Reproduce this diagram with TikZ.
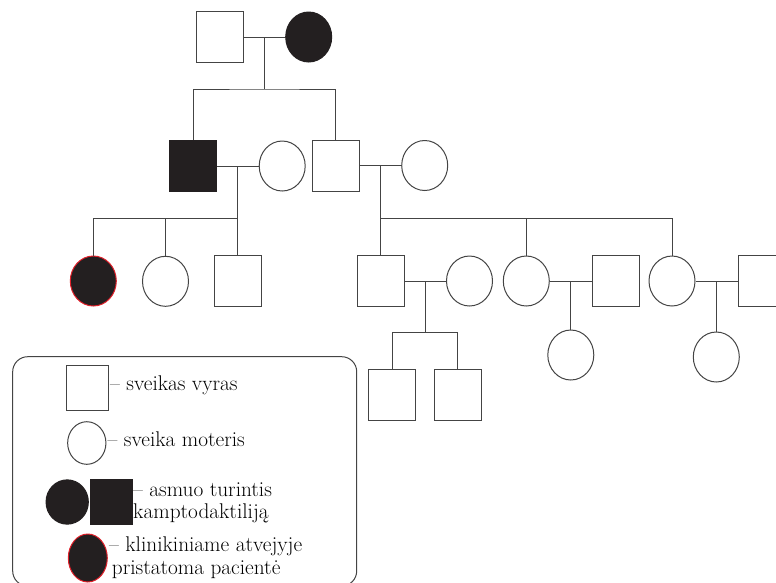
\documentclass[tikz,border=0pt]{standalone}
\usepackage{fontspec}
\usetikzlibrary{shapes.geometric}
\usetikzlibrary{calc}
\definecolor{ink}{HTML}{231F20}
\definecolor{wire}{HTML}{444444}
\definecolor{probred}{HTML}{E0202A}

\begin{document}
\begin{tikzpicture}[x=1pt, y=-1pt,
	male/.style={rectangle, draw=wire, line width=1pt, minimum width=47pt, minimum height=51pt, inner sep=0pt},
	female/.style={ellipse, draw=wire, line width=1pt, minimum width=46pt, minimum height=50pt, inner sep=0pt},
	sick/.style={fill=ink, draw=ink},
	proband/.style={fill=ink, draw=probred},
	link/.style={draw=wire, line width=1pt},
	legtext/.style={anchor=base west, inner sep=0pt, font=\fontsize{21.3}{23}\selectfont}]
	\useasboundingbox (0,0) rectangle (776,582);
	% I
	\node [male] (I1) at (219.5,37) {};
	\node [female, sick] (I2) at (308.7,37) {};
	% II
	\node [male, sick] (II1) at (193,166) {};
	\node [female] (II2) at (282.2,166) {};
	\node [male] (II3) at (335.8,165.5) {};
	\node [female] (II4) at (424.7,165.5) {};
	% III
	\node [female, proband] (III1) at (93.3,281) {};
	\node [female] (III2) at (165.5,281.3) {};
	\node [male] (III3) at (238,281) {};
	\node [male] (III4) at (381,281) {};
	\node [female] (III5) at (469.5,281) {};
	\node [female] (III6) at (526.3,281) {};
	\node [male] (III7) at (615.8,281) {};
	\node [female] (III8) at (672,281) {};
	\node [male] (III9) at (761.8,281) {};
	% IV
	\node [male] (IV1) at (392,394.5) {};
	\node [male] (IV2) at (457.5,394.5) {};
	\node [female] (IV3) at (570.8,355) {};
	\node [female] (IV4) at (716.3,357) {};
	% couples
	\draw [link] (I1.east) -- (I2.west) coordinate [pos=0.5] (m1);
	\draw [link] (II1.east) -- (II2.west) coordinate [pos=0.5] (m2);
	\draw [link] (II3.east) -- (II4.west) coordinate [pos=0.5] (m3);
	\draw [link] (III4.east) -- (III5.west) coordinate [pos=0.5] (m4);
	\draw [link] (III6.east) -- (III7.west) coordinate [pos=0.5] (m5);
	\draw [link] (III8.east) -- (III9.west) coordinate [pos=0.5] (m6);
	% children
	\draw [link] (m1) --++ (0,52) coordinate (s1);
	\draw [link] (II1.north) |- (s1) -| (II3.north);
	\coordinate (s2) at (m2 |- 0,218.3);
	\draw [link] (m2) -- (m2 |- III3.north);
	\draw [link] (III1.north) |- (s2);
	\draw [link] (III2.north) -- (III2.north |- s2);
	\coordinate (s3) at (m3 |- 0,218.3);
	\draw [link] (m3) -- (m3 |- III4.north);
	\draw [link] (s3) -| (III8.north);
	\draw [link] (III6.north) -- (III6.north |- s3);
	\draw [link] (m4) --++ (0,51.4) coordinate (s4);
	\draw [link] (IV1.north) |- (s4) -| (IV2.north);
	\draw [link] (m5) -- (m5 |- IV3.north);
	\draw [link] (m6) -- (m6 |- IV4.north);
	% legend
	\draw [link, rounded corners=15pt] (12.7,356.7) rectangle (356.7,586);
	\node [male, minimum width=41.6pt, minimum height=45.3pt] (keymale) at (87.5,388.3) {};
	\node [female, minimum width=38.3pt, minimum height=42.6pt] (keyfemale) at (86.8,443) {};
	\node [female, sick, minimum width=42.3pt, minimum height=44.3pt] (keysickf) at (67.2,502) {};
	\node [male, sick, minimum width=41.6pt, minimum height=45pt] (keysickm) at (111.5,502) {};
	\node [female, proband, minimum width=39pt, minimum height=48pt] (keyprob) at (87.8,558) {};
	\node [legtext] (t1) at (110,390) {– sveikas vyras};
	\node [legtext] (t2) at (107.5,446.7) {– sveika moteris};
	\node [legtext] (t3) at (133,496.7) {– asmuo turintis};
	\node [legtext] (t3b) at (133,518.5) {kamptodaktiliją};
	\node [legtext] (t4) at (109,551.7) {– klinikiniame atvejyje};
	\node [legtext] (t4b) at (111.7,574) {pristatoma pacientė};
\end{tikzpicture}
\end{document}
